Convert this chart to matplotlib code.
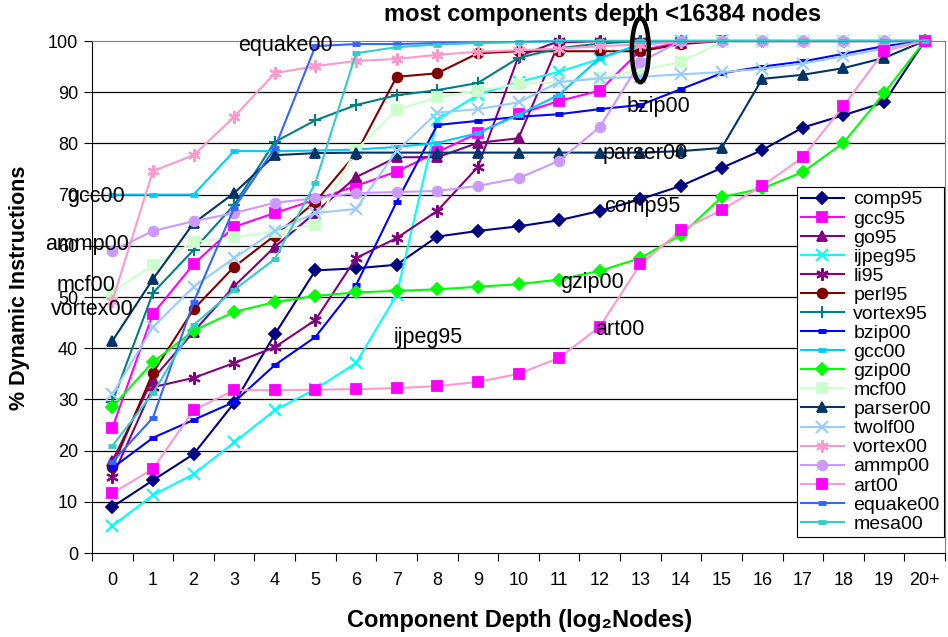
import numpy as np
import matplotlib.pyplot as plt
from matplotlib.patches import Ellipse

plt.rcParams['font.family'] = ['Liberation Sans', 'DejaVu Sans']

depth_labels = [str(i) for i in range(20)] + ['20+']

comp95 = [9.0, 14.2, 19.3, 29.3, 42.7, 55.2, 55.6, 56.3, 61.8, 62.9, 63.8, 65.0, 66.8, 69.1, 71.7, 75.2, 78.7, 83.1, 85.5, 88.0, 100]
gcc95 = [24.4, 46.7, 56.4, 63.7, 66.4, 69.0, 71.7, 74.5, 78.3, 82.0, 85.7, 88.3, 90.3, 98.2, 99.7, 100, 100, 100, 100, 100, 100]
go95 = [18.0, 34.0, 43.2, 52.1, 59.8, 66.5, 73.4, 77.3, 77.3, 80.1, 81.0, 99.7, 100, 100, 100, 100, 100, 100, 100, 100, 100]
ijpeg95 = [5.3, 11.3, 15.4, 21.6, 27.9, 32.0, 37.1, 50.4, 84.6, 89.5, 92.0, 94.0, 96.5, 99.5, 100, 100, 100, 100, 100, 100, 100]
li95 = [14.8, 32.4, 34.2, 37.1, 40.2, 45.5, 57.6, 61.5, 66.8, 75.4, 97.0, 100, 100, 100, 100, 100, 100, 100, 100, 100, 100]
perl95 = [16.8, 35.2, 47.6, 55.9, 62.0, 68.6, 78.0, 93.0, 93.7, 97.6, 98.0, 98.0, 98.0, 98.0, 99.4, 100, 100, 100, 100, 100, 100]
vortex95 = [29.5, 50.8, 59.2, 68.0, 80.3, 84.5, 87.5, 89.4, 90.4, 91.8, 96.7, 98.6, 99.5, 100, 100, 100, 100, 100, 100, 100, 100]
bzip00 = [16.6, 22.5, 26.0, 29.5, 36.7, 42.2, 52.3, 68.6, 83.6, 84.4, 85.2, 85.7, 86.7, 87.5, 90.6, 93.7, 95.0, 96.0, 97.5, 99.0, 100]
gcc00 = [70.0, 70.0, 70.0, 78.5, 78.5, 78.6, 78.8, 79.3, 80.1, 82.0, 85.6, 89.5, 96.7, 99.3, 100, 100, 100, 100, 100, 100, 100]
gzip00 = [28.5, 37.3, 43.4, 47.1, 49.0, 50.2, 50.9, 51.2, 51.5, 52.0, 52.5, 53.4, 55.1, 57.6, 62.1, 69.5, 71.2, 74.4, 80.1, 89.8, 100]
mcf00 = [51.0, 56.2, 60.7, 61.7, 62.7, 64.1, 78.7, 86.5, 89.0, 90.3, 91.6, 92.0, 92.7, 94.3, 95.9, 99.8, 100, 100, 100, 100, 100]
parser00 = [41.4, 53.5, 64.4, 70.3, 77.7, 78.1, 78.2, 78.2, 78.2, 78.2, 78.2, 78.2, 78.2, 78.2, 78.5, 79.1, 92.6, 93.4, 94.7, 96.7, 100]
twolf00 = [31.0, 44.1, 52.0, 57.6, 62.9, 66.4, 67.2, 78.5, 86.0, 86.7, 88.0, 92.0, 92.7, 93.0, 93.5, 93.9, 94.6, 95.6, 97.0, 98.5, 100]
vortex00 = [49.2, 74.6, 77.7, 85.2, 93.7, 95.1, 96.1, 96.5, 97.3, 97.9, 98.2, 98.5, 99.0, 99.3, 99.8, 100, 100, 100, 100, 100, 100]
ammp00 = [59.0, 62.9, 64.8, 66.4, 68.4, 69.3, 70.3, 70.5, 70.7, 71.7, 73.2, 76.6, 83.2, 95.9, 100, 100, 100, 100, 100, 100, 100]
art00 = [11.7, 16.4, 27.9, 31.8, 31.8, 31.9, 32.0, 32.2, 32.6, 33.4, 35.0, 38.1, 44.2, 56.4, 63.0, 67.0, 71.7, 77.3, 87.3, 98.0, 100]
equake00 = [17.8, 26.4, 49.0, 67.4, 79.1, 99.0, 99.4, 99.4, 99.6, 99.7, 99.8, 100, 100, 100, 100, 100, 100, 100, 100, 100, 100]
mesa00 = [20.9, 31.2, 44.5, 51.4, 57.4, 72.3, 97.6, 98.8, 99.3, 99.6, 99.8, 100, 100, 100, 100, 100, 100, 100, 100, 100, 100]

# name, values, line colour, marker, marker colour
series = [
    ('comp95', comp95, '#000080', 'D', '#000080'),
    ('gcc95', gcc95, '#FF00FF', 's', '#FF00FF'),
    ('go95', go95, '#800080', '^', '#800080'),
    ('ijpeg95', ijpeg95, '#00FFFF', 'x', '#00FFFF'),
    ('li95', li95, '#800080', (6, 2, 0), '#800080'),
    ('perl95', perl95, '#800000', 'o', '#800000'),
    ('vortex95', vortex95, '#008080', '+', '#008080'),
    ('bzip00', bzip00, '#0000FF', '_', '#0000FF'),
    ('gcc00', gcc00, '#00CCFF', '_', '#00CCFF'),
    ('gzip00', gzip00, '#00FF00', 'D', '#00FF00'),
    ('mcf00', mcf00, '#CCFFCC', 's', '#CCFFCC'),
    ('parser00', parser00, '#003366', '^', '#003366'),
    ('twolf00', twolf00, '#99CCFF', 'x', '#99CCFF'),
    ('vortex00', vortex00, '#FF99CC', (6, 2, 0), '#FF99CC'),
    ('ammp00', ammp00, '#CC99FF', 'o', '#CC99FF'),
    ('art00', art00, '#FF99CC', 's', '#FF00FF'),
    ('equake00', equake00, '#3366FF', '_', '#3366FF'),
    ('mesa00', mesa00, '#33CCCC', '_', '#33CCCC'),
]

fig = plt.figure(figsize=(9.48, 6.37), dpi=100)
ax = fig.add_axes([92/948, 1-553/637, (945-92)/948, (553-41)/637])

x = np.arange(len(depth_labels))
for name, vals, col, mk, mcol in series:
    ms = 7
    mew = 1.3
    if mk == '_':
        ms, mew = 6, 3.5
    elif mk in ('x', '+') or isinstance(mk, tuple):
        ms, mew = 9, 1.5
    elif mk == 'D':
        ms = 6.5
    ax.plot(x, vals, color=col, lw=1.5, marker=mk, markersize=ms,
            markerfacecolor=mcol, markeredgecolor=mcol, markeredgewidth=mew,
            label=name, clip_on=False)

ax.set_xlim(-0.5, 20.5)
ax.set_ylim(0, 100)
ax.set_yticks(range(0, 101, 10))
ax.set_xticks(x)
ax.set_xticklabels(depth_labels)
ax.set_xticks(np.arange(-0.5, 21, 1), minor=True)
ax.tick_params(axis='x', which='major', length=0, pad=14, labelsize=13)
ax.tick_params(axis='x', which='minor', length=6, width=0.8, direction='out')
ax.tick_params(axis='y', length=6, width=0.8, labelsize=13, pad=4)
for yv in range(10, 100, 10):
    ax.axhline(yv, color='black', lw=0.9, zorder=0)
for s in ['top', 'right']:
    ax.spines[s].set_color('#808080')
for s in ['left', 'bottom']:
    ax.spines[s].set_color('black')

# labels inside the plot
notes = [
    ('equake00', 4.26, 99.2), ('gcc00', -0.4, 69.7), ('ammp00', -0.62, 60.2),
    ('mcf00', -0.66, 52.3), ('vortex00', -0.49, 47.5), ('ijpeg95', 7.78, 42.0),
    ('bzip00', 13.45, 87.3), ('parser00', 13.13, 78.1), ('comp95', 13.05, 67.6),
    ('gzip00', 11.8, 52.9), ('art00', 12.5, 43.7),
]
for txt, xx, yy in notes:
    ax.text(xx, yy, txt, fontsize=15.5, ha='center', va='center', zorder=5)

ax.add_patch(Ellipse((13, 98.2), 0.42, 12.5, fill=False, ec='black', lw=3.2,
                     clip_on=False, zorder=6))

fig.text(603/948, 1-15/637, 'most components depth <16384 nodes',
         fontsize=17, fontweight='bold', ha='center', va='center')
fig.text(20/948, 1-288/637, '% Dynamic Instructions', rotation=90,
         fontsize=15.5, fontweight='bold', ha='center', va='center')
fig.text(520/948, 1-620/637, 'Component Depth (log\u2082Nodes)',
         fontsize=17, fontweight='bold', ha='center', va='center')

leg = ax.legend(loc='upper left', bbox_to_anchor=(797/948, 1-187/637),
                bbox_transform=fig.transFigure, fontsize=14, frameon=True,
                fancybox=False, edgecolor='black', framealpha=1,
                handlelength=2.2, handletextpad=0.5, labelspacing=0.075,
                borderpad=0.2, borderaxespad=0)
leg.get_frame().set_linewidth(0.8)

fig.savefig('out.png', dpi=100)
